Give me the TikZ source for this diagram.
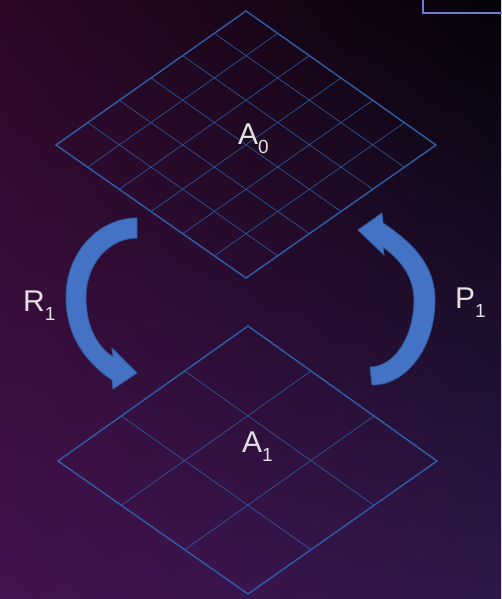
\documentclass[tikz,border=0pt]{standalone}
\usepackage{fontspec}
\setmainfont{Liberation Sans}
\usetikzlibrary{calc,shadings}
\definecolor{bgUL}{RGB}{44,8,38}
\definecolor{bgUR}{RGB}{5,2,8}
\definecolor{bgLL}{RGB}{68,18,80}
\definecolor{bgLR}{RGB}{46,24,74}
\definecolor{gridblue}{RGB}{47,95,168}
\definecolor{arrowfill}{RGB}{68,114,196}
\definecolor{arrowedge}{RGB}{50,90,160}
\definecolor{boxline}{RGB}{110,125,210}
\definecolor{labelgray}{RGB}{225,225,225}
\tikzset{
 frameline/.style={draw=gridblue, line width=1.4pt, line join=miter},
 gridline/.style={draw=gridblue, line width=0.6pt},
 bigarrow/.style={fill=arrowfill, draw=arrowedge, line width=0.8pt, line join=miter},
 lbl/.style={text=labelgray, inner sep=0pt, anchor=base west, font=\fontsize{30}{36}\selectfont},
 cornerbox/.style={draw=boxline, line width=1.5pt},
}
\newcommand{\sbs}[1]{\raisebox{-9pt}{\fontsize{19}{19}\selectfont #1}}
\begin{document}
\begin{tikzpicture}[x=1pt,y=-1pt]
\useasboundingbox (0pt,0pt) rectangle (501pt,-599pt);
\shade[upper left=bgUL, upper right=bgUR, lower left=bgLL, lower right=bgLR] (0pt,0pt) rectangle (501pt,-599pt);

% corner box
\coordinate (c1) at (423,-5);
\coordinate (c2) at (423,13);
\coordinate (c3) at (506,13);
\draw[cornerbox] (c1) -- (c2) -- (c3);

% top grid (6x6)
\coordinate (tT) at (246,11);
\coordinate (tL) at (56,145);
\coordinate (tR) at (436,145);
\coordinate (tB) at (246,278);
\foreach \i [evaluate=\i as \f using \i/6] in {1,...,5}{
  \draw[gridline] ($(tT)!\f!(tL)$) -- ($(tR)!\f!(tB)$);
  \draw[gridline] ($(tT)!\f!(tR)$) -- ($(tL)!\f!(tB)$);
}
\draw[frameline] (tT) -- (tR) -- (tB) -- (tL) -- cycle;

% bottom grid (3x3)
\coordinate (bT) at (248,326);
\coordinate (bL) at (58,461);
\coordinate (bR) at (437,461);
\coordinate (bB) at (248,594);
\foreach \i [evaluate=\i as \f using \i/3] in {1,2}{
  \draw[gridline] ($(bT)!\f!(bL)$) -- ($(bR)!\f!(bB)$);
  \draw[gridline] ($(bT)!\f!(bR)$) -- ($(bL)!\f!(bB)$);
}
\draw[frameline] (bT) -- (bR) -- (bB) -- (bL) -- cycle;

% left curved arrow (R1)
\path[bigarrow] (137,218) .. controls (97.8,218) and (66,253.4) .. (66,297)
  .. controls (66,337) and (87,363) .. (112,380) -- (113,389) -- (137,373)
  -- (112,348) -- (113,357) .. controls (97,346) and (86,327) .. (86,297)
  .. controls (86,264) and (109,238) .. (137,238) -- cycle;

% right curved arrow (P1)
\path[bigarrow] (383,223) -- (382,213) -- (358,230) -- (384,255) -- (383,247)
  .. controls (398,258) and (414,275) .. (414,300)
  .. controls (414,337) and (394,367) .. (370,367) -- (372,385)
  .. controls (407,385) and (435,347) .. (435,300)
  .. controls (435,262) and (408,240) .. (383,223) -- cycle;

% labels
\node[lbl] (A0) at (238,144) {A\sbs{0}};
\node[lbl] (A1) at (242,452) {A\sbs{1}};
\node[lbl] (R1) at (23,311) {R\sbs{1}};
\node[lbl] (P1) at (455,308) {P\sbs{1}};
\end{tikzpicture}
\end{document}
